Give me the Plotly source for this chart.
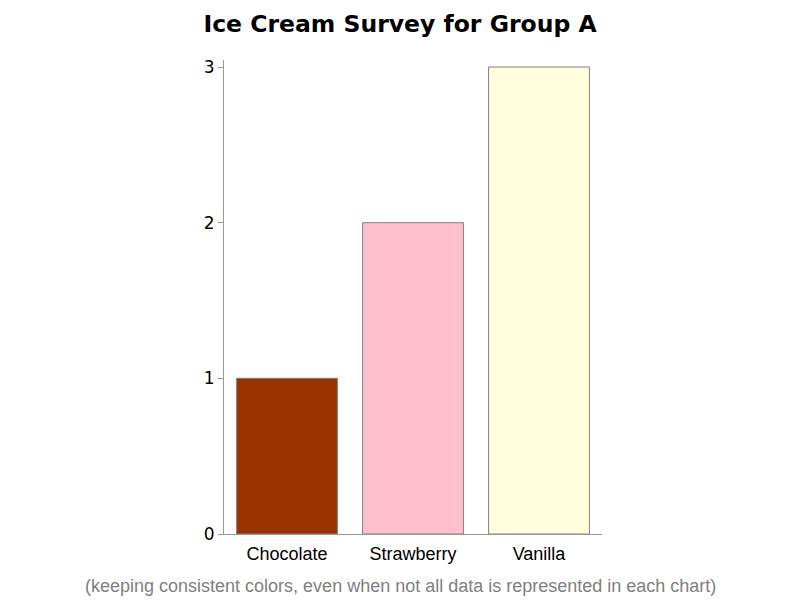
import plotly.graph_objects as go

flavors = ["Chocolate", "Strawberry", "Vanilla"]
counts = [1, 2, 3]
colors = ["#993300", "#FFC0CB", "#FFFFDD"]
y_ticks = [0, 1, 2, 3]

fig = go.Figure(go.Bar(
    x=flavors, y=counts,
    marker=dict(color=colors, line=dict(color="#808080", width=1)),
    hoverinfo="x+y",
))

fig.update_layout(
    width=800, height=600,
    paper_bgcolor="white", plot_bgcolor="white",
    margin=dict(l=224, r=198, t=60, b=66),
    bargap=0.2,
    showlegend=False,
    title=dict(text="<b>Ice Cream Survey for Group A</b>", x=0.5, xanchor="center",
               y=0.96, yanchor="middle",
               font=dict(family="DejaVu Sans", size=23.5, color="black")),
    xaxis=dict(showline=True, linecolor="#999999", linewidth=1, ticks="",
               showgrid=False, tickfont=dict(family="Liberation Sans", size=18, color="black"),
               ticklabelstandoff=3, range=[-0.5, 2.5]),
    yaxis=dict(showline=True, linecolor="#999999", linewidth=1, ticks="outside",
               ticklen=5, tickcolor="#999999", tickvals=y_ticks, showgrid=False,
               zeroline=False, range=[0, 3.045],
               tickfont=dict(family="DejaVu Sans", size=17, color="black")),
    annotations=[dict(text="(keeping consistent colors, even when not all data is represented in each chart)",
                      x=(400.5 - 224) / 378, xref="paper", xanchor="center",
                      y=-(586 - 534) / 474, yref="paper", yanchor="middle", showarrow=False,
                      font=dict(family="Liberation Sans", size=18, color="#808080"))],
)

fig.write_html("out.html", config={"displayModeBar": False},
               post_script="document.body.style.margin='0';")
